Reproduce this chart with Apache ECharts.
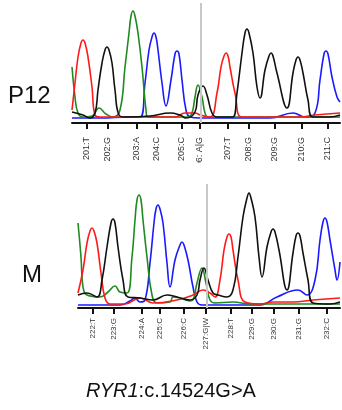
<!DOCTYPE html>
<html>
<head>
<meta charset="utf-8">
<script src="https://cdn.jsdelivr.net/npm/echarts@6/dist/echarts.min.js"></script>
<style>
  html, body { margin: 0; padding: 0; background: #fff; }
  #chart { width: 342px; height: 410px; }
</style>
</head>
<body>
<div id="chart"></div>
<script>
// 上图 P12：各碱基通道 [扫描位置, 信号强度]
const topRed = [[0,13],[3,40],[6,66],[9,80],[11,83],[13,80],[16,66],[20,36],[23,8],[28,6],[48,6],[78,6],[103,6],[113,10],[123,10],[128,8],[138,6],[145,30],[149,56],[152,67],[154,70],[156,67],[158,56],[163,30],[170,6],[188,6],[228,6],[243,8],[268,10]]
const topGreen = [[0,56],[3,26],[6,10],[11,6],[20,7],[27,15],[34,9],[41,6],[48,13],[53,56],[57,90],[59,107],[61,112],[63,107],[66,90],[70,56],[74,13],[76,6],[98,6],[116,6],[120,10],[123,26],[126,38],[130,26],[133,10],[136,6],[268,6]]
const topBlack = [[0,11],[11,8],[18,5],[23,10],[26,33],[30,60],[33,73],[35,76],[37,73],[40,60],[43,33],[47,8],[53,6],[78,7],[98,10],[108,8],[114,5],[123,11],[126,28],[131,37],[135,28],[140,10],[145,6],[156,6],[161,6],[165,30],[170,70],[173,90],[175,94],[177,90],[181,70],[185,36],[188,25],[193,53],[197,67],[199,70],[201,67],[205,50],[215,15],[221,50],[224,63],[226,66],[228,63],[231,50],[236,23],[241,6],[258,6],[268,8]]
const topBlue = [[0,5],[28,5],[58,6],[68,6],[73,40],[77,73],[80,86],[82,90],[84,86],[86,73],[90,40],[94,17],[99,43],[103,69],[105,72],[107,69],[110,43],[114,13],[118,6],[128,5],[198,5],[221,10],[233,6],[243,10],[248,43],[252,69],[254,72],[256,69],[260,46],[265,26],[268,21]]
const topTicks = [15, 36, 65, 85, 110, 128, 156, 177, 203, 230, 256]
const topBases = ['201:T', '202:G', '203:A', '204:C', '205:C', '206: A|G', '207:T', '208:G', '209:G', '210:G', '211:C']

// 下图 M
const botRed = [[0,15],[5,38],[9,65],[12,77],[14,80],[16,77],[19,65],[23,35],[27,10],[32,4],[47,4],[62,10],[75,5],[99,8],[115,13],[125,18],[132,15],[137,11],[142,28],[146,58],[149,71],[151,74],[153,71],[155,58],[160,28],[167,6],[182,4],[195,6],[215,6],[235,8],[262,10]]
const botGreen = [[0,85],[3,51],[5,21],[9,13],[22,11],[30,16],[37,22],[42,16],[49,15],[54,51],[57,88],[59,108],[61,113],[63,108],[65,88],[69,51],[74,13],[79,5],[92,6],[95,11],[102,10],[112,7],[115,8],[119,25],[124,40],[128,25],[132,8],[137,5],[155,6],[172,4],[262,4]]
const botBlack = [[0,13],[9,15],[19,11],[24,28],[29,61],[33,85],[35,89],[37,85],[40,61],[45,28],[50,11],[62,10],[75,8],[89,13],[99,11],[112,8],[119,13],[122,28],[126,40],[130,28],[135,15],[140,13],[149,11],[155,18],[160,51],[165,91],[169,110],[171,115],[173,110],[177,91],[181,51],[184,31],[189,61],[193,76],[195,79],[197,76],[201,58],[209,18],[215,55],[218,72],[220,75],[222,72],[225,55],[230,28],[235,5],[252,4],[262,6]]
const botBlue = [[0,3],[42,3],[52,7],[57,10],[62,6],[67,8],[72,45],[76,85],[78,99],[80,103],[82,99],[85,85],[89,45],[92,21],[97,48],[102,63],[104,66],[106,63],[110,48],[115,21],[119,6],[124,3],[182,3],[199,11],[220,18],[229,13],[237,28],[242,68],[245,86],[247,90],[249,86],[252,68],[257,38],[259,28],[262,46]]
const botTicks = [15, 36, 64, 82, 106, 128, 153, 174, 196, 221, 249]
const botBases = ['222:T', '223:G', '224:A', '225:C', '226:C', '227:G|W', '228:T', '229:G', '230:G', '231:G', '232:C']

// 突变位置
const topMark = 128.5
const botMark = 129

const colors = { red: '#ff1a1a', green: '#1f8a1f', blue: '#1a1aff', black: '#111111' }

const chart = echarts.init(document.getElementById('chart'))

const trace = (data, color, idx) => ({
  type: 'line',
  data: data,
  xAxisIndex: idx,
  yAxisIndex: idx,
  smooth: 0.45,
  symbol: 'none',
  lineStyle: { color: color, width: 1.6 },
  z: 3
})

const grayLine = (data, idx, pos) => ({
  type: 'line',
  data: data,
  xAxisIndex: idx,
  yAxisIndex: idx,
  symbol: 'none',
  lineStyle: { opacity: 0 },
  z: 1,
  markLine: {
    symbol: 'none',
    silent: true,
    label: { show: false },
    lineStyle: { color: '#c8c8c8', width: 2, type: 'solid' },
    data: [{ xAxis: pos }]
  }
})

const xAxisOf = (idx, max, ticks, bases, margin, size) => ({
  type: 'value',
  gridIndex: idx,
  min: 0,
  max: max,
  axisLine: { lineStyle: { color: '#111', width: 2 } },
  axisTick: { customValues: ticks, length: 6, lineStyle: { color: '#111', width: 2 } },
  axisLabel: {
    customValues: ticks,
    rotate: 90,
    margin: margin,
    fontSize: size,
    fontFamily: 'Liberation Sans',
    color: '#333',
    formatter: (v) => bases[ticks.indexOf(v)]
  },
  splitLine: { show: false }
})

chart.setOption({
  animation: false,
  grid: [
    { left: 72, top: 3, width: 268, height: 120 },
    { left: 78, top: 184, width: 262, height: 124 }
  ],
  xAxis: [
    xAxisOf(0, 268, topTicks, topBases, 14, 9),
    xAxisOf(1, 262, botTicks, botBases, 10, 8)
  ],
  yAxis: [
    { type: 'value', gridIndex: 0, min: 0, max: 120, show: false },
    { type: 'value', gridIndex: 1, min: 0, max: 124, show: false }
  ],
  series: [
    grayLine(topBlue, 0, topMark),
    trace(topBlue, colors.blue, 0),
    trace(topGreen, colors.green, 0),
    trace(topRed, colors.red, 0),
    trace(topBlack, colors.black, 0),
    grayLine(botBlue, 1, botMark),
    trace(botBlue, colors.blue, 1),
    trace(botGreen, colors.green, 1),
    trace(botRed, colors.red, 1),
    trace(botBlack, colors.black, 1)
  ],
  graphic: [
    // 原图上方标签区域在此处被裁切
    {
      type: 'rect', left: 185, top: 163, z: 100,
      shape: { width: 30, height: 14 },
      style: { fill: '#fff' }
    },
    {
      type: 'text', left: 8, top: 84,
      style: { text: 'P12', fontSize: 24, fontFamily: 'Liberation Sans', fill: '#111' }
    },
    {
      type: 'text', left: 22, top: 263,
      style: { text: 'M', fontSize: 24, fontFamily: 'Liberation Sans', fill: '#111' }
    },
    {
      type: 'text', left: 86, top: 381,
      style: {
        text: '{i|RYR1}:c.14524G>A',
        fontSize: 20,
        fontFamily: 'Liberation Sans',
        fill: '#111',
        rich: { i: { fontStyle: 'italic', fontSize: 20, fontFamily: 'Liberation Sans', fill: '#111' } }
      }
    }
  ]
})
</script>
</body>
</html>
